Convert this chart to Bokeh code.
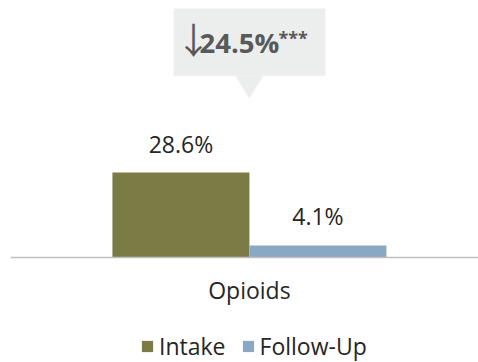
from bokeh.plotting import figure
from bokeh.models import Range1d, ColumnDataSource, Legend, LegendItem, Span
from bokeh.core.properties import value
from bokeh.embed import file_html
from bokeh.resources import INLINE

# ---- data ----
category = "Opioids"
series = ["Intake", "Follow-Up"]
values = [28.6, 4.1]
labels = ["28.6%", "4.1%"]
colors = ["#7B7B45", "#8AA8C4"]
change_label = "24.5%"
significance = "***"

# ---- layout constants ----
BAR_W = 0.5
offsets = [-0.25, 0.25]
Y_TOP = 86.5
Y_BOTTOM = -35.3
FONT = "Open Sans"
CALLOUT = "#ECEDED"
DARK = "#595959"
TEXT = "#262626"

p = figure(frame_width=468, frame_height=362, output_backend="svg", toolbar_location=None,
           x_range=Range1d(-0.872, 0.836), y_range=Range1d(Y_BOTTOM, Y_TOP),
           min_border_left=10, min_border_right=0, min_border_top=0, min_border_bottom=0)
p.outline_line_color = None
p.grid.visible = False
p.axis.visible = False

src = ColumnDataSource(dict(x=offsets, top=values, color=colors, label=labels, name=series))
renderers = []
for i in range(len(series)):
    r = p.vbar(x=[offsets[i]], top=[values[i]], width=BAR_W, bottom=0,
               fill_color=colors[i], line_color=None)
    renderers.append(r)

# baseline (category axis line) and category label
p.add_layout(Span(location=0, dimension="width", line_color="#BFBFBF", line_width=1.5))
p.text(x=[0], y=[0], text=[category], text_align="center", text_baseline="alphabetic",
       y_offset=32, text_font=value(FONT), text_font_size="23px", text_color=TEXT)

p.text(x="x", y="top", text="label", source=src, text_align="center",
       text_baseline="alphabetic", y_offset=-29, text_font=value(FONT),
       text_font_size="23px", text_color=TEXT)

# callout box above the category
p.quad(left=-0.277, right=0.277, bottom=61.2, top=83.8, fill_color=CALLOUT, line_color=None)
p.patch(x=[-0.051, 0.051, 0.0], y=[61.2, 61.2, 53.5], fill_color=CALLOUT, line_color=None)
p.text(x=[0], y=[Y_TOP], text=["\u2193"], x_offset=-56, y_offset=37, text_align="center",
       text_baseline="alphabetic", text_font=value("Noto Sans CJK JP"), text_font_size="36px",
       text_color=DARK)
p.text(x=[0], y=[Y_TOP], text=[change_label], x_offset=-50, y_offset=42, text_align="left",
       text_baseline="alphabetic", text_font=value(FONT), text_font_style="bold",
       text_font_size="27.5px", text_color=DARK)
p.text(x=[0], y=[Y_TOP], text=[significance], x_offset=29, y_offset=37, text_align="left",
       text_baseline="alphabetic", text_font=value(FONT), text_font_style="bold",
       text_font_size="18px", text_color=DARK)

legend = Legend(items=[LegendItem(label=series[i], renderers=[renderers[i]]) for i in range(len(series))],
                orientation="horizontal", location=(130, 0),
                glyph_width=14, glyph_height=14, label_standoff=5, spacing=15,
                padding=0, margin=0, border_line_color=None, background_fill_alpha=0,
                label_text_font=FONT, label_text_font_size="23px", label_text_color=TEXT)
p.add_layout(legend, "center")

open("out.html", "w").write(file_html(p, INLINE))
